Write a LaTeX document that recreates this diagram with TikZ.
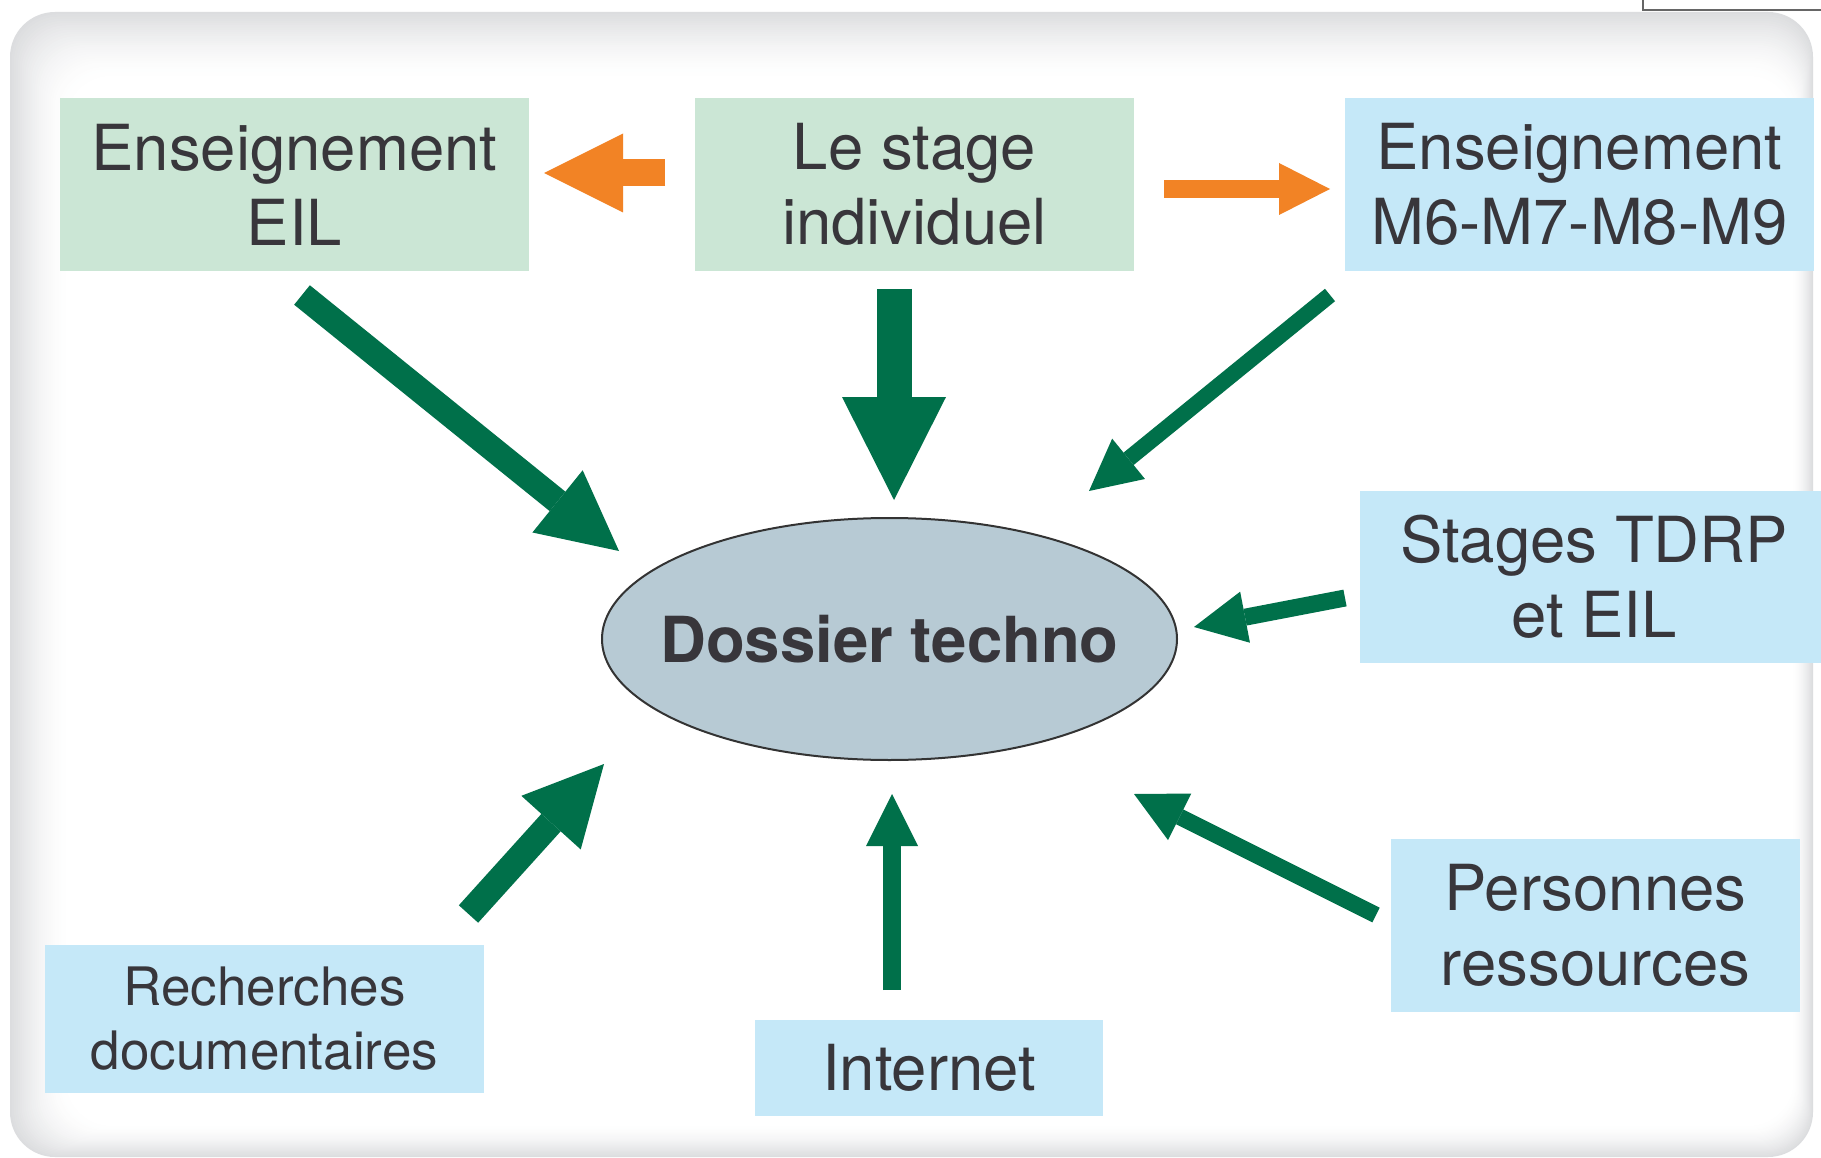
\documentclass[tikz,border=0pt]{standalone}
\usepackage{fontspec}
\setmainfont{TeX Gyre Heros}
\usetikzlibrary{arrows.meta,shapes.geometric}
\definecolor{txt}{HTML}{38363B}
\definecolor{boxgreen}{HTML}{CBE6D5}
\definecolor{boxblue}{HTML}{C5E8F8}
\definecolor{ellfill}{HTML}{B7CAD4}
\definecolor{arrgreen}{HTML}{00704A}
\definecolor{arrorange}{HTML}{F28325}
\definecolor{bgshade}{HTML}{DCDDDF}
\begin{document}
\begin{tikzpicture}[x=1pt,y=-1pt,
  box/.style={rectangle, inner sep=0pt, align=center, text=txt, font=\fontsize{63.5}{75}\selectfont},
  gbox/.style={box, fill=boxgreen},
  bbox/.style={box, fill=boxblue},
  garr/.style n args={3}{draw=arrgreen, line width=#1, -{Triangle[length=#3, width=#2, line width=0pt]}},
  oarr/.style n args={3}{draw=arrorange, line width=#1, -{Triangle[length=#3, width=#2, line width=0pt]}},
]
\useasboundingbox (0,0) rectangle (1821,1158);
\fill[white] (0,0) rectangle (1821,1158);
% background panel with inner shading
\foreach \i in {0,...,30}{
  \pgfmathsetmacro\t{\i/30}
  \pgfmathsetmacro\p{100*(1-\t)^1.6}
  \fill[bgshade!\p!white, rounded corners=45pt]
    (10+58*\t, 12+66*\t) rectangle (1813-20*\t, 1157-32*\t);
}
\draw[line width=2pt, draw=black!60] (1643,-10) rectangle (1840,10);

% nodes
\node[gbox, minimum width=469pt, minimum height=173pt] (eil) at (294.5,184.5) {Enseignement\\EIL};
\node[gbox, minimum width=439pt, minimum height=173pt] (stage) at (914.5,184.5) {Le stage\\individuel};
\node[bbox, minimum width=469pt, minimum height=173pt] (m6) at (1579.5,184.5) {Enseignement\\M6-M7-M8-M9};
\node[bbox, minimum width=468pt, minimum height=172pt] (tdrp) at (1594,577) {Stages TDRP\\et EIL};
\node[bbox, minimum width=409pt, minimum height=173pt] (pers) at (1595.5,925.5) {Personnes\\ressources};
\node[bbox, minimum width=439pt, minimum height=148pt, font=\fontsize{53}{64}\selectfont] (rech) at (264.5,1018.5) {Recherches\\documentaires};
\node[bbox, minimum width=348pt, minimum height=96pt] (inet) at (929,1068) {Internet};
\node[ellipse, draw=black!80, line width=2pt, fill=ellfill, minimum width=575pt, minimum height=242pt, inner sep=0pt, text=txt, font=\bfseries\fontsize{63.5}{75}\selectfont] (dos) at (889.5,639) {\makebox[0pt]{Dossier techno}};

% arrow end points
\coordinate (a1s) at (302,295);   \coordinate (a1e) at (619,551);
\coordinate (a2s) at (894,289);   \coordinate (a2e) at (894,500);
\coordinate (a3s) at (1330,295);  \coordinate (a3e) at (1089,491);
\coordinate (a4s) at (1345,598);  \coordinate (a4e) at (1194,627);
\coordinate (a5s) at (1376,915);  \coordinate (a5e) at (1134,794);
\coordinate (a6s) at (892,990);   \coordinate (a6e) at (892,794);
\coordinate (a7s) at (468.5,914); \coordinate (a7e) at (604,764);
\coordinate (o1s) at (665,173);   \coordinate (o1e) at (544,173);
\coordinate (o2s) at (1164,189);  \coordinate (o2e) at (1330,189);

\draw[garr={25pt}{80pt}{79pt}] (a1s) -- (a1e);
\draw[garr={35pt}{104pt}{103pt}] (a2s) -- (a2e);
\draw[garr={16pt}{52pt}{51pt}] (a3s) -- (a3e);
\draw[garr={17pt}{52pt}{52pt}] (a4s) -- (a4e);
\draw[garr={16.5pt}{52pt}{51pt}] (a5s) -- (a5e);
\draw[garr={18pt}{52pt}{52pt}] (a6s) -- (a6e);
\draw[garr={26pt}{80pt}{79pt}] (a7s) -- (a7e);
\draw[oarr={27pt}{79pt}{79pt}] (o1s) -- (o1e);
\draw[oarr={18pt}{52pt}{51pt}] (o2s) -- (o2e);
\end{tikzpicture}
\end{document}
